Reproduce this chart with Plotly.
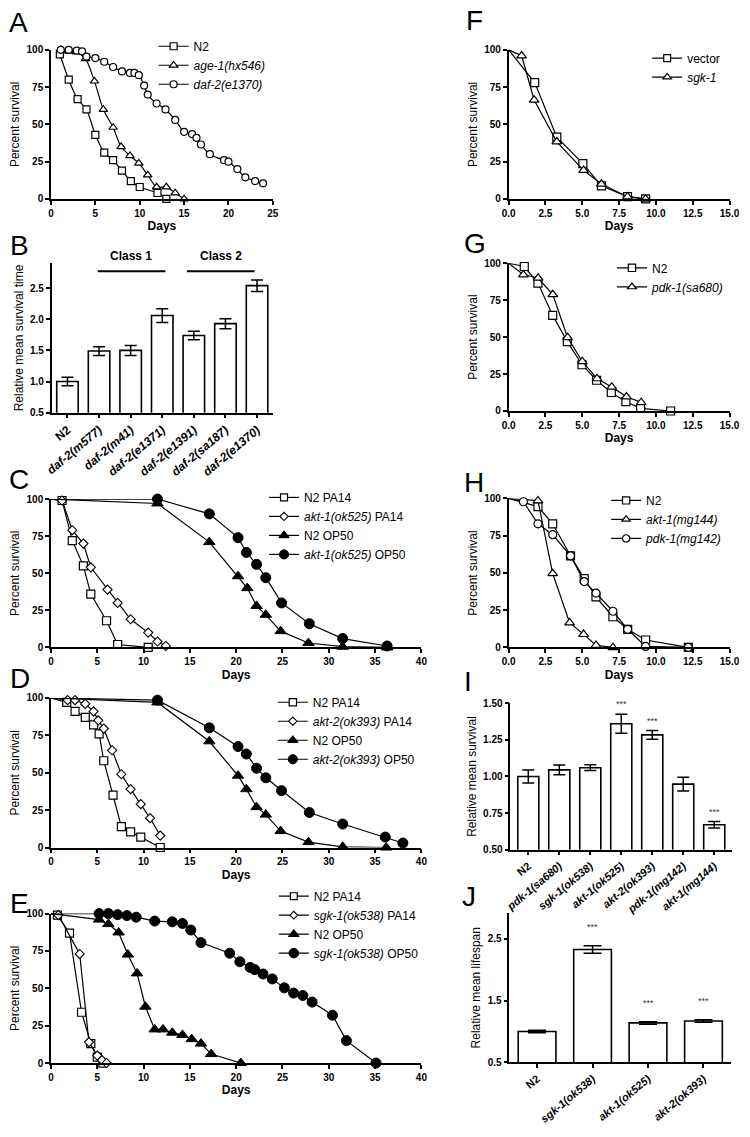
import plotly.graph_objects as go

W, H = 750, 1137
FONT = "Liberation Sans, Arial, Helvetica, sans-serif"

# ---------------- data ----------------
# Panel A
a_days_n2 = [1, 2, 3, 4, 5, 6, 7, 8, 9, 10, 12, 13]
a_surv_n2 = [97, 80, 67, 60, 43, 31, 26, 19, 12, 8, 4, 0]
a_days_age1 = [1.1, 2, 2.9, 3.9, 4.9, 5.9, 7, 7.9, 8.9, 9.9, 10.9, 11.9, 13, 14, 15]
a_surv_age1 = [100, 99, 98.5, 94, 79, 60, 48, 35, 29, 24, 16, 8, 8, 4, 0]
a_days_daf2 = [1.1, 2, 2.9, 3.5, 4, 5, 6, 7, 8, 8.9, 9.4, 9.9, 10.5, 10.9, 11.9, 12.9, 14, 15,
               15.9, 16.4, 16.9, 17.9, 19.5, 20, 21, 21.9, 23, 23.9]
a_surv_daf2 = [100, 100, 99.5, 99, 95.5, 94.5, 92, 88.5, 85.5, 84.5, 84.5, 83, 76, 70, 64, 60, 53, 45,
               43.5, 41, 36.5, 30, 26, 25, 20, 14.5, 12, 10.5]

# Panel B
b_cats = ["N2", "daf-2(m577)", "daf-2(m41)", "daf-2(e1371)", "daf-2(e1391)", "daf-2(sa187)", "daf-2(e1370)"]
b_mean = [1.0, 1.49, 1.50, 2.06, 1.74, 1.93, 2.54]
b_err = [0.067, 0.07, 0.08, 0.11, 0.067, 0.08, 0.093]

# Panel C
c_days_n2pa = [0, 1.2, 2.3, 3.5, 4.3, 6.0, 7.2, 10.5]
c_surv_n2pa = [100, 99, 72, 55, 36, 18, 2, 0]
c_days_aktpa = [0, 1.2, 2.3, 3.5, 4.3, 6.1, 7.2, 8.6, 10.5, 11.5, 12.4]
c_surv_aktpa = [100, 99, 79, 70, 54, 39, 30, 19, 10, 4, 1]
c_days_n2op = [0, 11.5, 17.1, 20.2, 21.2, 22.2, 23.2, 24.8, 27.8, 31.5, 36.3]
c_surv_n2op = [100, 97, 71, 48, 40, 28, 22, 11, 3, 0.5, 0]
c_days_aktop = [0, 11.5, 17.1, 20.2, 21.1, 22.2, 23.2, 24.9, 27.9, 31.5, 36.3]
c_surv_aktop = [100, 100, 90, 74, 64, 56, 47, 30, 16, 6, 1]

# Panel D
d_days_n2pa = [0, 1.7, 2.6, 3.7, 4.6, 5.2, 5.7, 6.7, 7.6, 8.6, 9.7, 11.8]
d_surv_n2pa = [100, 97, 91, 87, 82, 76, 58, 35, 14, 10.5, 7, 0]
d_days_aktpa = [0, 1.8, 2.6, 3.7, 4.6, 5.1, 5.7, 6.6, 7.6, 8.6, 9.7, 10.7, 11.8]
d_surv_aktpa = [100, 98.5, 98.5, 96, 91, 85, 79.5, 65, 49, 39, 29, 19.6, 8]
d_days_n2op = [0, 11.5, 17.1, 20.2, 21.1, 22.2, 23.2, 24.8, 27.8, 31.5, 36.2]
d_surv_n2op = [100, 97, 71, 48, 39, 27, 22, 11, 3.6, 0.5, 0]
d_days_aktop = [0, 11.5, 17.1, 20.2, 21.1, 22.2, 23.2, 24.9, 27.9, 31.5, 36.1, 38.0]
d_surv_aktop = [100, 98.5, 80, 67.5, 62.5, 53, 46.6, 38, 23.4, 15.7, 7, 3]

# Panel E
e_days_n2pa = [0, 0.7, 2.0, 3.3, 4.3, 5.0, 5.6]
e_surv_n2pa = [100, 99, 87, 34, 13, 4, 0]
e_days_sgkpa = [0, 0.8, 3.1, 4.1, 5.0, 5.5, 6.0]
e_surv_sgkpa = [100, 99, 73, 14, 5, 2, 0]
e_days_n2op = [0, 5.2, 6.2, 7.3, 8.3, 9.3, 10.2, 11.2, 12.1, 13.1, 14.2, 15.2, 16.2, 17.3, 20.5]
e_surv_n2op = [100, 96, 93, 87.4, 72.6, 60, 37.7, 22.5, 22.5, 20.3, 18.8, 16, 13, 6, 0]
e_days_sgkop = [0, 5.2, 6.2, 7.2, 8.2, 9.2, 11.2, 13.1, 14.2, 15.1, 16.2, 19.3, 20.4, 21.5, 22.0,
                22.9, 23.9, 25.2, 26.2, 27.2, 28.2, 30.4, 31.9, 35.1]
e_surv_sgkop = [100, 100, 100, 99.3, 98.7, 97.6, 95, 94.5, 93.4, 89, 80.6, 73.5, 67.8, 64, 62.5,
                59.6, 56.3, 50.3, 46.8, 45.2, 40.8, 32, 15, 0]

# Panel F
f_days_vec = [0, 1.77, 3.27, 5.04, 6.3, 8.07, 9.3]
f_surv_vec = [100, 78, 41.4, 23.7, 8.8, 1.5, 0]
f_days_sgk = [0, 0.88, 1.73, 3.27, 5.09, 6.3, 8.07, 9.3]
f_surv_sgk = [100, 96, 66.4, 38.3, 19.2, 10, 1.5, 0]

# Panel G
g_days_n2 = [0, 1.06, 1.99, 2.99, 3.98, 4.98, 5.97, 6.97, 7.96, 8.96, 11.0]
g_surv_n2 = [100, 97.8, 86.6, 64.7, 46.9, 31.3, 20.8, 12.5, 6.3, 1.8, 0]
g_days_pdk = [0, 1.0, 2.0, 3.0, 4.0, 5.0, 6.0, 7.0, 8.0, 9.0]
g_surv_pdk = [100, 92.2, 90, 78.8, 49.8, 33.5, 21.9, 16.3, 9.6, 5.8]

# Panel H
h_days_n2 = [0, 1.99, 2.99, 4.2, 5.13, 5.93, 7.08, 8.08, 9.3, 12.2]
h_surv_n2 = [100, 94.5, 83, 61.5, 46.2, 33.9, 20.6, 12.2, 5, 0]
h_days_akt = [0, 1.99, 2.99, 4.14, 5.09, 5.93, 7.08]
h_surv_akt = [100, 98.5, 49.6, 16.6, 8.8, 1.5, 0]
h_days_pdk = [0, 1.0, 1.99, 2.99, 4.2, 5.13, 5.93, 7.08, 8.08, 9.3, 12.2]
h_surv_pdk = [100, 97.8, 83, 75.7, 61.5, 44.2, 36.5, 24.3, 12.2, 0.7, 0]

# Panel I
i_cats = ["N2", "pdk-1(sa680)", "sgk-1(ok538)", "akt-1(ok525)", "akt-2(ok393)", "pdk-1(mg142)", "akt-1(mg144)"]
i_mean = [1.0, 1.045, 1.06, 1.36, 1.284, 0.948, 0.67]
i_err = [0.045, 0.034, 0.02, 0.065, 0.03, 0.047, 0.022]
i_sig = [False, False, False, True, True, False, True]

# Panel J
j_cats = ["N2", "sgk-1(ok538)", "akt-1(ok525)", "akt-2(ok393)"]
j_mean = [1.0, 2.33, 1.14, 1.17]
j_err = [0.02, 0.06, 0.02, 0.02]
j_sig = [False, True, True, True]

# ---------------- helpers ----------------
def dom_x(a, b):
    return [a / W, b / W]

def dom_y(top, bottom):
    return [1 - bottom / H, 1 - top / H]

tickfont = dict(family=FONT, size=10, color="black", weight="bold")

def axis_common():
    return dict(showline=True, linecolor="black", linewidth=1.5, ticks="outside",
                ticklen=4, tickwidth=1.5, tickcolor="black", showgrid=False,
                zeroline=False, tickfont=tickfont, fixedrange=True,
                ticklabeloverflow="allow")

fig = go.Figure()
layout = dict(width=W, height=H, margin=dict(l=0, r=0, t=0, b=0),
              paper_bgcolor="white", plot_bgcolor="rgba(0,0,0,0)",
              font=dict(family=FONT, color="black"))

def axname(n, kind):
    return kind + ("" if n == 1 else str(n))

def surv_axes(n, xd, yd, xrange, dtick, fmt=None, xtitle="Days"):
    xa = axis_common()
    xa.update(domain=xd, range=xrange, dtick=dtick, tick0=0,
              anchor=axname(n, "y"),
              title=dict(text=xtitle, font=dict(family=FONT, size=12, weight="bold"), standoff=4))
    if fmt:
        xa["tickformat"] = fmt
    ya = axis_common()
    ya.update(domain=yd, range=[0, 100], dtick=25, tick0=0, anchor=axname(n, "x"),
              title=dict(text="Percent survival", font=dict(family=FONT, size=12), standoff=4))
    layout[axname(n, "xaxis")] = xa
    layout[axname(n, "yaxis")] = ya

def bar_axes(n, xd, yd, ncat, xrange, yrange, ytickvals, ytext, cats, ytitle, catsize):
    xa = axis_common()
    ticktext = [c if c == "N2" else "<i>%s</i>" % c for c in cats]
    xa.update(domain=xd, range=xrange, tickvals=list(range(ncat)), ticktext=ticktext,
              tickangle=-40, anchor=axname(n, "y"),
              tickfont=dict(family=FONT, size=catsize, color="black", weight="bold"))
    ya = axis_common()
    ya.update(domain=yd, range=yrange, tickvals=ytickvals, ticktext=ytext, anchor=axname(n, "x"),
              title=dict(text=ytitle, font=dict(family=FONT, size=12), standoff=4))
    layout[axname(n, "xaxis")] = xa
    layout[axname(n, "yaxis")] = ya

MK = {
    "sq": dict(symbol="square", color="white", size=8, line=dict(color="black", width=1.2)),
    "tri": dict(symbol="triangle-up", color="white", size=8.5, line=dict(color="black", width=1.2)),
    "cir": dict(symbol="circle", color="white", size=8, line=dict(color="black", width=1.2)),
    "dia": dict(symbol="diamond", color="white", size=7, line=dict(color="black", width=1.1)),
    "ftri": dict(symbol="triangle-up", color="black", size=10, line=dict(color="black", width=1)),
    "fcir": dict(symbol="circle", color="black", size=10, line=dict(color="black", width=1)),
}

def add_surv(n, days, surv, name, mk, legend, size=None, hide_first=False, spline=False):
    m = dict(MK[mk])
    m["opacity"] = 1
    if size is not None:
        m["size"] = size
    if hide_first:
        s = m["size"]
        m["size"] = [0] + [s] * (len(days) - 1)
    line = dict(color="black", width=1.2)
    if spline:
        line.update(shape="spline", smoothing=0.8)
    fig.add_trace(go.Scatter(x=days, y=surv, mode="lines+markers", name=name, marker=m,
                             line=line, xaxis=axname(n, "x"), yaxis=axname(n, "y"),
                             legend=legend, cliponaxis=False, showlegend=True))

def add_bars(n, means, errs, cap):
    fig.add_trace(go.Bar(x=list(range(len(means))), y=means, width=0.68,
                         marker=dict(color="white", line=dict(color="black", width=1.6)),
                         error_y=dict(type="data", array=errs, color="black", thickness=1.5, width=cap),
                         xaxis=axname(n, "x"), yaxis=axname(n, "y"), showlegend=False))

# ---------------- panels ----------------
# A
surv_axes(1, dom_x(45, 272), dom_y(44.3, 195), [0, 25], 5)
add_surv(1, a_days_n2, a_surv_n2, "N2", "sq", "legend", size=7, spline=True)
add_surv(1, a_days_age1, a_surv_age1, "<i>age-1(hx546)</i>", "tri", "legend", size=7.5, spline=True)
add_surv(1, a_days_daf2, a_surv_daf2, "<i>daf-2(e1370)</i>", "cir", "legend", size=7, spline=True)

# B
bar_axes(2, dom_x(45.7, 272), dom_y(260, 411), 7, [-0.5, 6.5], [0.5, 2.9],
         [0.5, 1.0, 1.5, 2.0, 2.5], ["0.5", "1.0", "1.5", "2.0", "2.5"], b_cats,
         "Relative mean survival time", 12)
add_bars(2, b_mean, b_err, 6)

# C
surv_axes(3, dom_x(45, 424), dom_y(498.3, 648.3), [0, 40], 5)
add_surv(3, c_days_n2pa, c_surv_n2pa, "N2 PA14", "sq", "legend2", hide_first=True)
add_surv(3, c_days_aktpa, c_surv_aktpa, "<i>akt-1(ok525)</i> PA14", "dia", "legend2", hide_first=True)
add_surv(3, c_days_n2op, c_surv_n2op, "N2 OP50", "ftri", "legend2", hide_first=True)
add_surv(3, c_days_aktop, c_surv_aktop, "<i>akt-1(ok525)</i> OP50", "fcir", "legend2", hide_first=True)

# D
surv_axes(4, dom_x(45, 424), dom_y(699.3, 850.5), [0, 40], 5)
add_surv(4, d_days_n2pa, d_surv_n2pa, "N2 PA14", "sq", "legend3", hide_first=True)
add_surv(4, d_days_aktpa, d_surv_aktpa, "<i>akt-2(ok393)</i> PA14", "dia", "legend3", hide_first=True)
add_surv(4, d_days_n2op, d_surv_n2op, "N2 OP50", "ftri", "legend3", hide_first=True)
add_surv(4, d_days_aktop, d_surv_aktop, "<i>akt-2(ok393)</i> OP50", "fcir", "legend3", hide_first=True)

# E
surv_axes(5, dom_x(45, 424), dom_y(917.3, 1068.3), [0, 40], 5)
add_surv(5, e_days_n2pa, e_surv_n2pa, "N2 PA14", "sq", "legend4", hide_first=True)
add_surv(5, e_days_sgkpa, e_surv_sgkpa, "<i>sgk-1(ok538)</i> PA14", "dia", "legend4", hide_first=True)
add_surv(5, e_days_n2op, e_surv_n2op, "N2 OP50", "ftri", "legend4", hide_first=True)
add_surv(5, e_days_sgkop, e_surv_sgkop, "<i>sgk-1(ok538)</i> OP50", "fcir", "legend4", hide_first=True)

# F
surv_axes(6, dom_x(513.3, 739.3), dom_y(44.3, 195), [0, 15], 2.5, fmt=".1f")
add_surv(6, f_days_vec, f_surv_vec, "vector", "sq", "legend5", hide_first=True)
add_surv(6, f_days_sgk, f_surv_sgk, "<i>sgk-1</i>", "tri", "legend5", hide_first=True)

# G
surv_axes(7, dom_x(513.3, 739.3), dom_y(260, 409.3), [0, 15], 2.5, fmt=".1f")
add_surv(7, g_days_n2, g_surv_n2, "N2", "sq", "legend6", hide_first=True)
add_surv(7, g_days_pdk, g_surv_pdk, "<i>pdk-1(sa680)</i>", "tri", "legend6", hide_first=True)

# H
surv_axes(8, dom_x(513.3, 739.3), dom_y(497.7, 648.3), [0, 15], 2.5, fmt=".1f")
add_surv(8, h_days_n2, h_surv_n2, "N2", "sq", "legend7", hide_first=True)
add_surv(8, h_days_akt, h_surv_akt, "<i>akt-1(mg144)</i>", "tri", "legend7", hide_first=True)
add_surv(8, h_days_pdk, h_surv_pdk, "<i>pdk-1(mg142)</i>", "cir", "legend7", hide_first=True)

# I
bar_axes(9, dom_x(515, 741.7), dom_y(704.7, 852.7), 7, [-0.58, 6.57], [0.5, 1.5],
         [0.5, 0.75, 1.0, 1.25, 1.5], ["0.50", "0.75", "1.00", "1.25", "1.50"], i_cats,
         "Relative mean survival", 11)
add_bars(9, i_mean, i_err, 6)

# J
bar_axes(10, dom_x(514, 741), dom_y(916.7, 1067.7), 4, [-0.5, 3.5], [0.5, 2.92],
         [0.5, 1.5, 2.5], ["0.5", "1.5", "2.5"], j_cats, "Relative mean lifespan", 11)
add_bars(10, j_mean, j_err, 9)

# ---------------- legends ----------------
def legend_at(left, top):
    return dict(x=left / W, y=1 - top / H, xanchor="left", yanchor="top",
                bgcolor="rgba(0,0,0,0)", borderwidth=0, itemwidth=30,
                font=dict(family=FONT, size=12, color="black"), tracegroupgap=0,
                itemclick=False, itemdoubleclick=False)

layout["legend"] = legend_at(150, 26)
layout["legend2"] = legend_at(263, 482)
layout["legend3"] = legend_at(272, 689)
layout["legend4"] = legend_at(273, 885)
layout["legend5"] = legend_at(655, 38)
layout["legend6"] = legend_at(619, 250)
layout["legend7"] = legend_at(613, 485)

# ---------------- annotations / shapes ----------------
annotations = []
letters = [("A", 0, 17), ("B", 1, 242), ("C", 0, 479), ("D", 1, 680), ("E", 1, 907),
           ("F", 468, 15), ("G", 466, 240), ("H", 466, 482), ("I", 466, 683), ("J", 464, 900)]
for t, lx, ly in letters:
    annotations.append(dict(text=t, x=lx / W, y=1 - ly / H, xref="paper", yref="paper",
                            xanchor="left", yanchor="middle", showarrow=False,
                            font=dict(family=FONT, size=28, color="black")))

for label, cx in [("Class 1", 2.0), ("Class 2", 4.85)]:
    annotations.append(dict(text=label, x=cx, y=1 - 253 / H, xref="x2", yref="paper",
                            xanchor="center", yanchor="middle", showarrow=False,
                            font=dict(family=FONT, size=12, color="black", weight="bold")))

shapes = [
    dict(type="line", xref="x2", yref="y2", x0=0.96, x1=3.1, y0=2.77, y1=2.77,
         line=dict(color="black", width=2)),
    dict(type="line", xref="x2", yref="y2", x0=3.78, x1=5.92, y0=2.77, y1=2.77,
         line=dict(color="black", width=2)),
]

for k, (m, e, s) in enumerate(zip(i_mean, i_err, i_sig)):
    if s:
        annotations.append(dict(text="***", x=k, y=m + e, xref="x9", yref="y9", yanchor="bottom",
                                yshift=3, showarrow=False,
                                font=dict(family=FONT, size=9, color="#333")))
for k, (m, e, s) in enumerate(zip(j_mean, j_err, j_sig)):
    if s:
        annotations.append(dict(text="***", x=k, y=m + e, xref="x10", yref="y10", yanchor="bottom",
                                yshift=12, showarrow=False,
                                font=dict(family=FONT, size=9, color="#333")))

layout["annotations"] = annotations
layout["shapes"] = shapes
fig.update_layout(**layout)
fig.write_html("out.html", config={"displayModeBar": False},
               post_script="document.body.style.margin='0px';")
